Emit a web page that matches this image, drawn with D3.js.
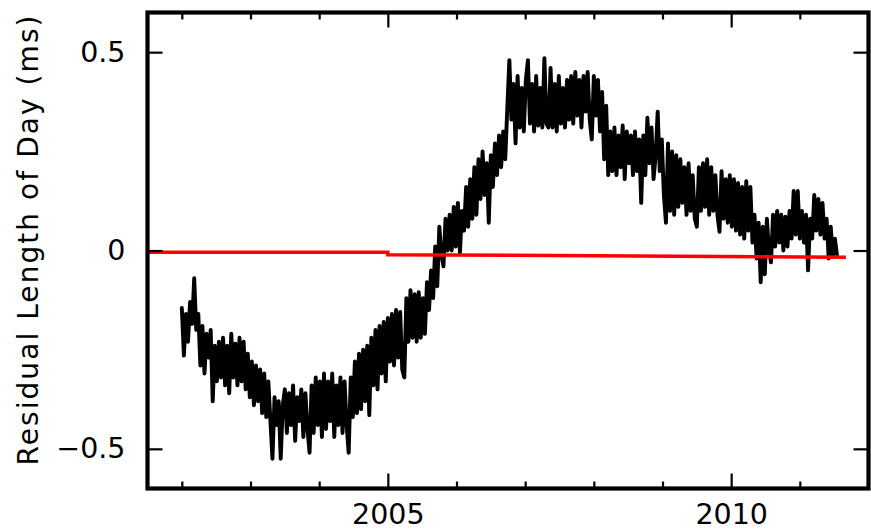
<!DOCTYPE html>
<html>
<head>
<meta charset="utf-8">
<script src="https://cdn.jsdelivr.net/npm/d3@7"></script>
<style>
  html, body { margin: 0; padding: 0; background: #ffffff; }
  svg { display: block; }
  text { font-family: "DejaVu Sans", sans-serif; fill: #000; }
</style>
</head>
<body>
<svg id="chart" width="871" height="531"></svg>
<script>
// Residual length-of-day series: first epoch, sampling step (years), values (ms)
const lodStart = 2002.0;
const lodStep = 0.03;
const lodValues = [
  -0.145,-0.265,-0.16,-0.23,-0.13,-0.185,-0.07,-0.20,-0.16,-0.29,
  -0.19,-0.31,-0.21,-0.27,-0.20,-0.38,-0.24,-0.33,-0.23,-0.32,
  -0.22,-0.34,-0.24,-0.36,-0.21,-0.32,-0.235,-0.34,-0.22,-0.33,
  -0.23,-0.35,-0.26,-0.37,-0.28,-0.39,-0.29,-0.38,-0.30,-0.41,
  -0.31,-0.42,-0.33,-0.43,-0.525,-0.37,-0.44,-0.38,-0.525,-0.39,
  -0.35,-0.46,-0.36,-0.44,-0.34,-0.48,-0.37,-0.43,-0.35,-0.47,
  -0.36,-0.45,-0.51,-0.34,-0.46,-0.32,-0.44,-0.33,-0.47,-0.31,
  -0.45,-0.33,-0.43,-0.31,-0.47,-0.34,-0.44,-0.32,-0.46,-0.33,
  -0.44,-0.51,-0.32,-0.42,-0.28,-0.41,-0.26,-0.40,-0.25,-0.38,
  -0.24,-0.415,-0.22,-0.34,-0.20,-0.35,-0.19,-0.31,-0.18,-0.33,
  -0.17,-0.28,-0.16,-0.29,-0.15,-0.27,-0.155,-0.30,-0.32,-0.12,
  -0.23,-0.10,-0.22,-0.11,-0.23,-0.105,-0.22,-0.12,-0.21,-0.08,
  -0.15,-0.05,-0.12,0.01,-0.09,0.06,-0.01,-0.04,0.08,0.0,
  0.09,0.0,0.11,0.01,0.12,-0.005,0.10,0.05,0.16,0.06,
  0.18,0.08,0.21,0.09,0.23,0.13,0.25,0.14,0.22,0.07,
  0.24,0.16,0.27,0.19,0.29,0.21,0.30,0.23,0.36,0.48,
  0.33,0.42,0.27,0.44,0.31,0.41,0.30,0.43,0.48,0.32,
  0.42,0.30,0.44,0.315,0.41,0.31,0.485,0.32,0.31,0.46,
  0.31,0.42,0.30,0.44,0.32,0.41,0.31,0.43,0.33,0.44,
  0.32,0.45,0.34,0.43,0.31,0.44,0.35,0.45,0.33,0.28,
  0.44,0.34,0.43,0.30,0.40,0.23,0.365,0.19,0.30,0.20,
  0.31,0.19,0.29,0.21,0.315,0.18,0.30,0.22,0.29,0.19,
  0.30,0.20,0.28,0.12,0.29,0.19,0.335,0.22,0.31,0.18,
  0.24,0.35,0.20,0.28,0.14,0.07,0.27,0.10,0.25,0.09,
  0.24,0.11,0.23,0.12,0.21,0.09,0.22,0.10,0.19,0.08,
  0.06,0.21,0.10,0.22,0.11,0.23,0.09,0.21,0.10,0.19,
  0.09,0.047,0.20,0.08,0.18,0.07,0.19,0.06,0.18,0.05,
  0.17,0.04,0.16,0.03,0.175,0.05,0.16,0.02,0.09,-0.02,
  0.07,-0.08,0.06,-0.06,0.08,0.0,-0.03,0.09,0.01,0.10,
  0.02,0.09,0.0,0.085,0.01,0.10,0.03,0.15,0.04,0.15,
  0.03,0.10,0.02,0.09,-0.05,0.08,0.03,0.14,0.05,0.13,
  0.04,0.12,0.03,0.08,-0.02,0.06,-0.015,0.03,-0.01
];

// Model curve (red): [year, ms]
const modelYears  = [2001.5, 2005.0, 2005.0, 2011.67];
const modelValues = [-0.0045, -0.0045, -0.0105, -0.017];

// Axes
const xDomain = [2001.5, 2012.0];
const yDomain = [-0.6, 0.6];
const xMajorTicks = [2005, 2010];
const xMajorLabels = ["2005", "2010"];
const xMinorTicks = [2002, 2003, 2004, 2006, 2007, 2008, 2009, 2011];
const yTicks = [-0.5, 0, 0.5];
const yTickLabels = ["\u22120.5", "0", "0.5"];
const yTitle = "Residual Length of Day (ms)";

const svg = d3.select("#chart");
const plotLeft = 147.5, plotRight = 868.5, plotTop = 12.5, plotBottom = 488.5;

const x = d3.scaleLinear().domain(xDomain).range([plotLeft, plotRight]);
const y = d3.scaleLinear().domain(yDomain).range([plotBottom, plotTop]);

const series = lodValues.map((v, i) => ({ t: lodStart + i * lodStep, v }));
const model = modelYears.map((t, i) => ({ t, v: modelValues[i] }));

const line = d3.line().x(d => x(d.t)).y(d => y(d.v));

// Data line
svg.append("path")
  .datum(series)
  .attr("d", line)
  .attr("fill", "none")
  .attr("stroke", "#000")
  .attr("stroke-width", 3.9)
  .attr("stroke-linejoin", "round")
  .attr("stroke-linecap", "round");

// Model line
svg.append("path")
  .datum(model)
  .attr("d", line)
  .attr("fill", "none")
  .attr("stroke", "#ff0000")
  .attr("stroke-width", 3.5);

// Tick marks pointing inward on all four sides
function ticks(axis, tr, vals, size, labels, pad) {
  const g = svg.append("g").attr("transform", tr)
    .call(axis.tickValues(vals).tickSizeInner(-size).tickSizeOuter(0)
      .tickPadding(pad || 0)
      .tickFormat((d, i) => labels ? labels[i] : ""));
  g.select(".domain").remove();
  g.selectAll(".tick line").attr("stroke", "#000").attr("stroke-width", 2.2);
  g.selectAll("text").attr("font-family", "DejaVu Sans").attr("font-size", 28.5).attr("fill", "#000");
  return g;
}
ticks(d3.axisBottom(x), `translate(0,${plotBottom})`, xMajorTicks, 15, xMajorLabels, 15.5);
ticks(d3.axisBottom(x), `translate(0,${plotBottom})`, xMinorTicks, 7);
ticks(d3.axisTop(x), `translate(0,${plotTop})`, xMajorTicks, 15);
ticks(d3.axisTop(x), `translate(0,${plotTop})`, xMinorTicks, 7);
ticks(d3.axisLeft(y), `translate(${plotLeft},0)`, yTicks, 15, yTickLabels, 22);
ticks(d3.axisRight(y), `translate(${plotRight},0)`, yTicks, 15);

// Frame
svg.append("rect")
  .attr("x", plotLeft).attr("y", plotTop)
  .attr("width", plotRight - plotLeft).attr("height", plotBottom - plotTop)
  .attr("fill", "none").attr("stroke", "#000").attr("stroke-width", 4.2);

// Y axis title
svg.append("text")
  .attr("transform", `translate(38,${(plotTop + plotBottom) / 2 - 10}) rotate(-90)`)
  .attr("text-anchor", "middle")
  .attr("font-size", 28)
  .attr("textLength", 450)
  .attr("lengthAdjust", "spacing")
  .text(yTitle);
</script>
</body>
</html>
